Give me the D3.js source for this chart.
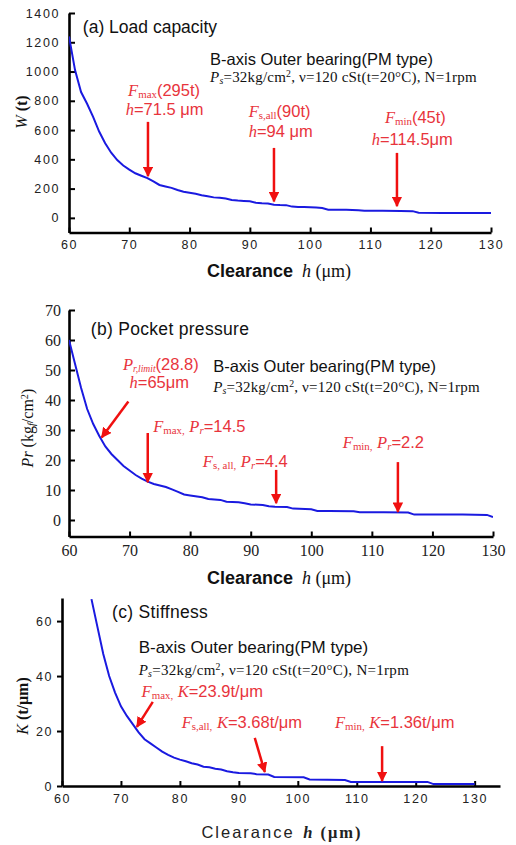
<!DOCTYPE html>
<html><head><meta charset="utf-8">
<script src="https://cdn.jsdelivr.net/npm/d3@7"></script>
<style>
body{margin:0;background:#fff;}
svg{display:block;}
</style></head>
<body>
<svg id="c" width="516" height="845"></svg>
<script>
// ---------- DATA ----------
const xTicks = [60,70,80,90,100,110,120,130];

// (a) Load capacity
const wH   = [60,61,62,63,64,65,66,67,68,69,70,71,72,73,74,75,76,77,78,79,80,81,82,83,84,85,86,87,88,89,90,91,92,93,94,95,96,97,98,99,100,101,102,103,104,106,108,109,112,115,117,118,122,126,130];
const wVal = [1240,1010,860,780,690,590,510,445,395,358,330,305,288,272,250,225,215,205,190,178,172,165,155,148,140,137,132,122,118,116,114,104,100,98,90,88,87,77,75,74,73,71,67,56,55,55,52,48,48,47,46,35,34,34,33];
const wTicks = [0,200,400,600,800,1000,1200,1400];

// (b) Pocket pressure
const pH   = [60,61,62,63,64,65,66,67,68,69,70,71,72,73,74,75,76,77,78,79,80,82,83,85,86,88,89,90,92,93,94,96,97,100,101,103,107,108,112,116,117,125,129,130];
const pVal = [60,52,44,37,32,28,24.5,22,20,18,16.5,15,13.8,12.8,12,11.5,11,10.2,9.4,8.5,8.2,7.6,7,6.7,6.1,5.9,5.6,5.2,5,4.6,4.4,4.3,3.8,3.6,3.0,3.0,2.9,2.6,2.6,2.5,1.8,1.8,1.7,1.0];
const pTicks = [0,10,20,30,40,50,60,70];

// (c) Stiffness
const kH   = [65,66,67,68,69,70,71,72,73,74,75,76,77,78,79,80,81,82,83,84,85,86,87,88,89,90,92,93,95,96,101,102,108,109,122,123,130];
const kVal = [68,58,48,40,34,29,25.5,22.5,19.5,17,15.5,14,12.5,11.3,10.3,9.6,9,8.3,7.8,7,6.8,6.3,6,5.4,5,4.7,4.6,4.3,4.2,3.3,3.2,2.4,2.2,1.5,1.5,0.7,0.7];
const kTicks = [0,20,40,60];

// ---------- helpers ----------
const svg = d3.select("#c");
const RED_TXT = "#e8343c", RED = "#f01010", BLUE = "#1a1ae0";
const sans = "Liberation Sans, Arial, sans-serif", serif = "Liberation Serif, Times New Roman, serif";

svg.append("defs").append("marker")
  .attr("id","ah").attr("viewBox","0 0 10 10").attr("refX",9).attr("refY",5)
  .attr("markerWidth",4.2).attr("markerHeight",4.2).attr("orient","auto")
  .append("path").attr("d","M0,0 L10,5 L0,10 Z").attr("fill",RED);

function richText(g, x, y, parts, opts){
  const t = g.append("text").attr("x",x).attr("y",y)
    .attr("font-family", opts.family || sans)
    .attr("font-size", opts.size || 15).attr("fill", opts.fill || "#000");
  if (opts.anchor) t.attr("text-anchor", opts.anchor);
  if (opts.transform) t.attr("transform", opts.transform);
  if (opts.spacing) t.attr("letter-spacing", opts.spacing);
  if (opts.weight) t.attr("font-weight", opts.weight);
  parts.forEach(p=>{
    const s = t.append("tspan").text(p.t);
    if (p.i) s.attr("font-style","italic");
    if (p.serif) s.attr("font-family",serif);
    if (p.sans) s.attr("font-family",sans);
    if (p.b) s.attr("font-weight","bold");
    if (p.nb) s.attr("font-weight","normal");
    if (p.sub) s.attr("baseline-shift","-15%").attr("font-size", p.fs || "66%");
    if (p.sup) s.attr("baseline-shift","super").attr("font-size","65%");
    if (p.dx) s.attr("dx", p.dx);
  });
  return t;
}

function F(sub){ return [{t:"F", i:true, serif:true},{t:sub, sub:true, serif:true}]; }

function panel(cfg){
  const g = svg.append("g");
  const x = d3.scaleLinear().domain(cfg.xDom).range(cfg.xRange);
  const y = d3.scaleLinear().domain(cfg.yDom).range(cfg.yRange);

  const xa = d3.axisBottom(x).tickValues(xTicks).tickFormat(d3.format("d")).tickSizeInner(-5).tickSizeOuter(0).tickPadding(cfg.xPad);
  const ya = (cfg.yOut ? d3.axisLeft(y).tickSizeInner(5) : d3.axisLeft(y).tickSizeInner(-6))
             .tickValues(cfg.yTicks).tickFormat(d3.format("d")).tickSizeOuter(0).tickPadding(cfg.yPad);
  const gx = g.append("g").attr("transform",`translate(0,${cfg.yRange[0]})`).call(xa);
  const gy = g.append("g").attr("transform",`translate(${cfg.xRange[0]},0)`).call(ya);
  [gx,gy].forEach(a=>{
    a.select(".domain").attr("stroke","#000").attr("stroke-width",2.6);
    a.selectAll(".tick line").attr("stroke","#000").attr("stroke-width",2);
    a.selectAll(".tick text").attr("fill","#222")
      .attr("font-family", cfg.tickFamily).attr("font-size", cfg.tickSize)
      .attr("letter-spacing", cfg.tickSpacing);
  });

  const cid = "clip"+cfg.id;
  g.append("clipPath").attr("id",cid).append("rect")
    .attr("x",cfg.xRange[0]).attr("y",cfg.yRange[1])
    .attr("width",cfg.xRange[1]-cfg.xRange[0]).attr("height",cfg.yRange[0]-cfg.yRange[1]);
  const pts = cfg.h.map((h,i)=>[h,cfg.v[i]]);
  g.append("path").datum(pts).attr("clip-path",`url(#${cid})`)
    .attr("fill","none").attr("stroke",BLUE).attr("stroke-width",2)
    .attr("d", d3.line().x(d=>x(d[0])).y(d=>y(d[1])));

  cfg.arrows.forEach(a=>{
    g.append("line").attr("x1",x(a[0])).attr("y1",y(a[1])).attr("x2",x(a[2])).attr("y2",y(a[3]))
      .attr("stroke",RED).attr("stroke-width",2.5).attr("marker-end","url(#ah)");
  });
  cfg.labels.forEach(l=>{
    richText(g, x(l.x), y(l.y), l.parts, {size:l.size||16.5, fill:l.fill||RED_TXT, family:l.family, spacing:l.spacing});
  });
  return {x,y};
}

const info = [{t:"P", i:true, serif:true},{t:"s", sub:true, i:true},{t:"=32kg/cm"},{t:"2", sup:true},{t:",  ν=120 cSt(t=20°C), N=1rpm"}];

// ---------- (a) ----------
panel({
  id:"a", xDom:[60,130], xRange:[69,491], yDom:[-100,1400], yRange:[232.5,13],
  yTicks:wTicks, h:wH, v:wVal, xPad:8, yPad:9,
  tickFamily:sans, tickSize:12.5, tickSpacing:"1.6px",
  arrows:[[73.1,656,73.1,285],[94,478,94,112],[114.4,444,114.4,80]],
  labels:[
    {x:62.3, y:1265, parts:[{t:"(a) Load capacity"}], size:17.5, fill:"#111"},
    {x:83.4, y:1045, parts:[{t:"B-axis Outer bearing(PM type)"}], size:16.5, fill:"#111"},
    {x:83.4, y:928, parts:info, size:15, fill:"#111", family:serif, spacing:"0.2px"},
    {x:69.8, y:832, parts:[...F("max"),{t:"(295t)"}]},
    {x:69.4, y:700, parts:[{t:"h", i:true, serif:true},{t:"=71.5 μm"}]},
    {x:89.8, y:688, parts:[...F("s,all"),{t:"(90t)"}]},
    {x:89.8, y:555, parts:[{t:"h", i:true, serif:true},{t:"=94 μm"}]},
    {x:112.4, y:645, parts:[...F("min"),{t:"(45t)"}]},
    {x:110.2, y:500, parts:[{t:"h", i:true, serif:true},{t:"=114.5μm"}]}
  ]
});
// ---------- (b) ----------
panel({
  id:"b", xDom:[60,130], xRange:[69,493], yDom:[-5.5,70], yRange:[536.5,310],
  yTicks:pTicks, h:pH, v:pVal, xPad:8, yPad:8,
  tickFamily:serif, tickSize:16, tickSpacing:"0px",
  arrows:[[69.8,39.5,65.4,27.5],[73,29,73,12.6],[94.2,16.7,94.2,5.6],[114.3,19.3,114.3,2.7]],
  labels:[
    {x:63.6, y:61.7, parts:[{t:"(b) Pocket pressure"}], size:17.5, fill:"#111", spacing:"0.3px"},
    {x:83.8, y:49.3, parts:[{t:"B-axis Outer bearing(PM type)"}], size:16.5, fill:"#111"},
    {x:83.8, y:42.7, parts:info, size:15, fill:"#111", family:serif, spacing:"0.2px"},
    {x:68.9, y:49.9, parts:[{t:"P", i:true, serif:true},{t:"r,limit", sub:true, i:true, serif:true, fs:"58%"},{t:"(28.8)"}]},
    {x:70.0, y:44.0, parts:[{t:"h", i:true, serif:true},{t:"=65μm"}]},
    {x:73.9, y:29.3, parts:[...F("max,"),{t:" "},{t:"P", i:true, serif:true},{t:"r", sub:true, i:true, serif:true},{t:"=14.5"}]},
    {x:82.1, y:17.7, parts:[...F("s, all,"),{t:" "},{t:"P", i:true, serif:true},{t:"r", sub:true, i:true, serif:true},{t:"=4.4"}]},
    {x:105.2, y:24, parts:[...F("min,"),{t:" "},{t:"P", i:true, serif:true},{t:"r", sub:true, i:true, serif:true},{t:"=2.2"}]}
  ]
});
// ---------- (c) ----------
panel({
  id:"c", xDom:[60,134.3], xRange:[62,500], yDom:[0,68.4], yRange:[786,598], yOut:true,
  yTicks:kTicks, h:kH, v:kVal, xPad:8, yPad:4,
  tickFamily:sans, tickSize:12.5, tickSpacing:"1.6px",
  arrows:[[75.4,30.6,72.7,21.5],[92.7,17.5,94.4,5.1],[114.3,14.5,114.3,1.8]],
  labels:[
    {x:68.5, y:61.1, parts:[{t:"(c) Stiffness"}], size:17.5, fill:"#111", spacing:"0.3px"},
    {x:73, y:48.4, parts:[{t:"B-axis Outer bearing(PM type)"}], size:17, fill:"#111"},
    {x:73, y:40.4, parts:info, size:15, fill:"#111", family:serif, spacing:"0.3px"},
    {x:73.5, y:32.4, parts:[...F("max,"),{t:" "},{t:"K", i:true, serif:true},{t:"=23.9t/μm"}]},
    {x:80.3, y:21.1, parts:[...F("s,all,"),{t:" "},{t:"K", i:true, serif:true},{t:"=3.68t/μm"}]},
    {x:106.3, y:21.1, parts:[...F("min,"),{t:" "},{t:"K", i:true, serif:true},{t:"=1.36t/μm"}]}
  ]
});

// ---------- axis titles ----------
richText(svg, 279, 277, [{t:"Clearance "},{t:"h", i:true, serif:true, nb:true, dx:4},{t:" (μm)", serif:true, nb:true}], {size:18, anchor:"middle", weight:"bold", family:sans, fill:"#111"});
richText(svg, 279, 584, [{t:"Clearance "},{t:"h", i:true, serif:true, nb:true, dx:4},{t:" (μm)", serif:true, nb:true}], {size:18, anchor:"middle", weight:"bold", family:sans, fill:"#111"});
richText(svg, 282, 838, [{t:"Clearance ", sans:true},{t:"h", i:true, serif:true, b:true, dx:2},{t:" (μm)", serif:true, b:true}], {size:16.5, anchor:"middle", family:sans, spacing:"2px", fill:"#222"});

richText(svg, 0, 0, [{t:"W", i:true},{t:" (t)", b:true}], {size:16, anchor:"middle", family:serif, transform:"translate(27,112) rotate(-90)", fill:"#111"});
richText(svg, 0, 0, [{t:"Pr", i:true},{t:" (kg"},{t:"f", sub:true, i:true},{t:"/cm"},{t:"2", sup:true},{t:")"}], {size:16, anchor:"middle", family:serif, transform:"translate(33,428) rotate(-90)", fill:"#111"});
richText(svg, 0, 0, [{t:"K", i:true},{t:" (t/μm)", b:true}], {size:16, anchor:"middle", family:serif, transform:"translate(28,706) rotate(-90)", fill:"#111"});
</script>
</body></html>
